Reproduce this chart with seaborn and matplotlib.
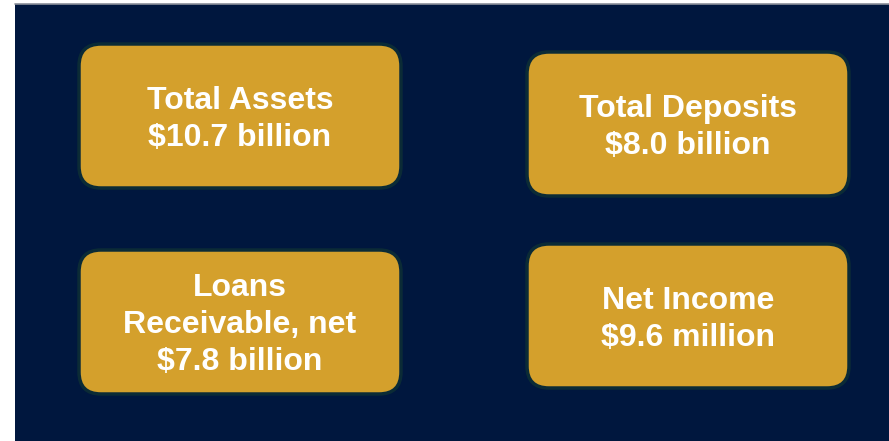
import matplotlib
matplotlib.use("Agg")
import matplotlib.pyplot as plt
from matplotlib.patches import FancyBboxPatch, Rectangle
import seaborn as sns

# card contents
labels = ["Total Assets", "Total Deposits", "Loans\nReceivable, net", "Net Income"]
values = ["$10.7 billion", "$8.0 billion", "$7.8 billion", "$9.6 million"]

# card layout in pixels (left, top, width, height)
card_x = [79, 527, 79, 527]
card_y = [44, 52, 250, 244]
card_w = [322, 322, 322, 322]
card_h = [144, 144, 144, 144]

navy = "#00173E"
gold = "#D4A02C"
edge = "#0B2B36"

sns.set_style("white")
plt.rcParams["font.family"] = ["Liberation Sans", "DejaVu Sans"]

W, H = 889, 441
fig = plt.figure(figsize=(W / 100, H / 100), dpi=100)
ax = fig.add_axes([0, 0, 1, 1])
ax.set_xlim(0, W)
ax.set_ylim(H, 0)
ax.axis("off")

# background panel
ax.add_patch(Rectangle((15, 4), W - 15, H - 4, facecolor=navy, edgecolor="none"))
ax.plot([15, W], [3.5, 3.5], color="#8A8F99", lw=1.2)

fs = 23
line_gap = 37
cap_half = fs * 100 / 72 * 0.716 / 2
for lab, val, x, y, w, h in zip(labels, values, card_x, card_y, card_w, card_h):
    box = FancyBboxPatch((x, y), w, h, boxstyle="round,pad=0,rounding_size=22",
                         facecolor=gold, edgecolor=edge, linewidth=2.5)
    ax.add_patch(box)
    lines = lab.split("\n") + [val]
    cy = y + h / 2
    n = len(lines)
    for i, t in enumerate(lines):
        ax.text(x + w / 2, cy + (i - (n - 1) / 2) * line_gap + cap_half, t,
                ha="center", va="baseline", color="white",
                fontsize=fs, fontweight="bold")

fig.savefig("out.png", dpi=100, facecolor="white")
